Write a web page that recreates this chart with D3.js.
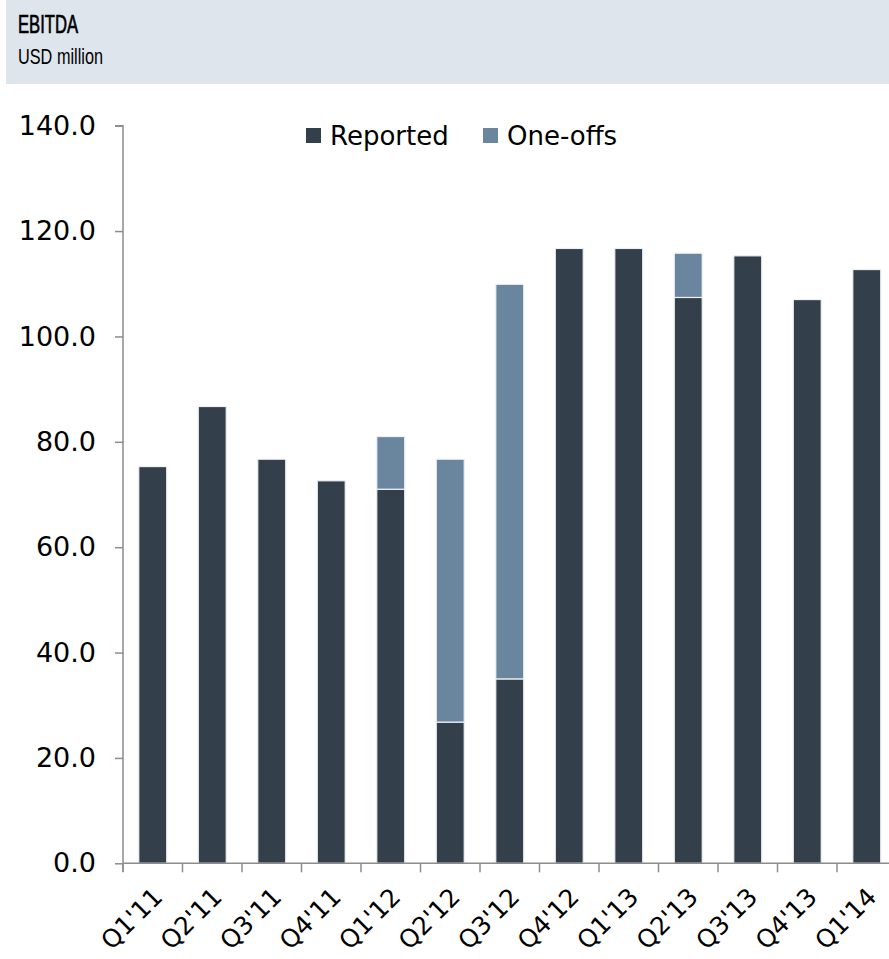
<!DOCTYPE html>
<html><head><meta charset="utf-8">
<script src="https://cdn.jsdelivr.net/npm/d3@7"></script>
<style>body{margin:0;background:#fff}svg{display:block}</style>
</head><body>
<svg id="c" width="889" height="959"></svg>
<script>
const categories = ["Q1'11","Q2'11","Q3'11","Q4'11","Q1'12","Q2'12","Q3'12","Q4'12","Q1'13","Q2'13","Q3'13","Q4'13","Q1'14"];
const reported = [75.3, 86.7, 76.7, 72.6, 71.0, 26.8, 35.0, 116.7, 116.7, 107.4, 115.3, 107.0, 112.7];
const oneOffs  = [0, 0, 0, 0, 10.0, 49.9, 74.9, 0, 0, 8.4, 0, 0, 0];
const yTicks = [0, 20, 40, 60, 80, 100, 120, 140];
const seriesNames = ["Reported", "One-offs"];
const colors = ["#333f4a", "#6a869f"];

const svg = d3.select("#c");
const font = "DejaVu Sans, sans-serif";

// header
svg.append("rect").attr("x", 6).attr("y", 0).attr("width", 883).attr("height", 84).attr("fill", "#dee5ed");
svg.append("text").attr("transform", "translate(18,33) scale(0.64,1)").attr("font-family", "Liberation Sans, sans-serif")
  .attr("font-size", 26).attr("stroke", "#000").attr("stroke-width", 0.7).attr("fill", "#000").text("EBITDA");
svg.append("text").attr("transform", "translate(18,64) scale(0.74,1)").attr("font-family", "Liberation Sans, sans-serif")
  .attr("font-size", 22).attr("fill", "#000").text("USD million");

const x = d3.scaleBand().domain(categories).range([123, 896.5]).paddingInner(0.53).paddingOuter(0.265);
const y = d3.scaleLinear().domain([0, 140]).range([863.3, 125.7]);

const data = categories.map((c, i) => ({cat: c, Reported: reported[i], "One-offs": oneOffs[i]}));
const stack = d3.stack().keys(seriesNames)(data);

const g = svg.append("g");
stack.forEach((s, si) => {
  g.selectAll(null).data(s.filter(d => d[1] - d[0] > 0)).join("rect")
    .attr("x", d => x(d.data.cat))
    .attr("width", x.bandwidth())
    .attr("y", d => y(d[1]))
    .attr("height", d => y(d[0]) - y(d[1]))
    .attr("fill", colors[si])
    .attr("stroke", "#eef1f4").attr("stroke-width", 1.2);
});

// y axis
const ya = svg.append("g").attr("transform", "translate(123,0)")
  .call(d3.axisLeft(y).tickValues(yTicks).tickFormat(d3.format(".1f")).tickSize(8).tickPadding(19));
ya.select(".domain").attr("stroke", "#8c8c8c").attr("stroke-width", 1.5).attr("d", "M-8,125.7H0V872");
ya.selectAll(".tick line").attr("stroke", "#8c8c8c").attr("stroke-width", 1.5);
ya.selectAll(".tick text").attr("font-family", font).attr("font-size", 27).attr("fill", "#000");

// x axis
const xa = svg.append("g").attr("transform", "translate(0,863.3)")
  .call(d3.axisBottom(x).tickSize(0).tickPadding(0));
xa.select(".domain").attr("stroke", "#8c8c8c").attr("stroke-width", 1.5).attr("d", "M123,0H889");
xa.selectAll(".tick text")
  .attr("font-family", font).attr("font-size", 25).attr("fill", "#000")
  .attr("text-anchor", "end").attr("dy", "0.35em")
  .attr("transform", "translate(5,29) rotate(-45)");
const bounds = categories.map(c => x(c) - x.step() * x.paddingInner() / 2);
xa.selectAll(".bound").data(bounds).join("line").attr("class", "bound")
  .attr("x1", d => d).attr("x2", d => d).attr("y1", 0).attr("y2", 9)
  .attr("stroke", "#8c8c8c").attr("stroke-width", 1.5);

// legend
const lx = [306, 483];
seriesNames.forEach((n, i) => {
  svg.append("rect").attr("x", lx[i]).attr("y", 128).attr("width", 15).attr("height", 15).attr("fill", colors[i]);
  svg.append("text").attr("x", lx[i] + 24).attr("y", 145).attr("font-family", font).attr("font-size", 26)
    .attr("fill", "#000").text(n);
});
</script>
</body></html>
